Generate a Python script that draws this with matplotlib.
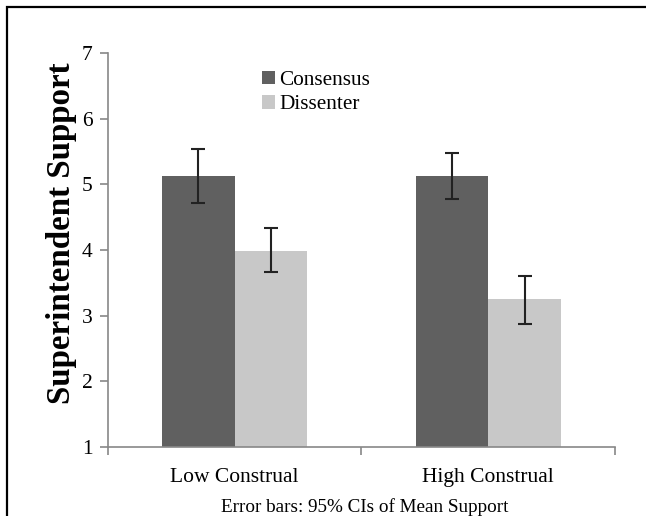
import matplotlib
matplotlib.use("Agg")
import matplotlib.pyplot as plt
import numpy as np
from matplotlib.patches import Rectangle

categories = ["Low Construal", "High Construal"]
series_names = ["Consensus", "Dissenter"]
consensus = [5.12, 5.13]
consensus_lo = [4.71, 4.78]
consensus_hi = [5.54, 5.48]
dissenter = [3.98, 3.25]
dissenter_lo = [3.66, 2.88]
dissenter_hi = [4.33, 3.61]
yticks = [1, 2, 3, 4, 5, 6, 7]
caption = "Error bars: 95% CIs of Mean Support"

W, H = 646, 516
fig = plt.figure(figsize=(W / 100, H / 100), dpi=100)
fig.patch.set_facecolor("white")
fig.patches.append(Rectangle((7 / W, -0.01), 1.02, 1 - 7 / H + 0.01, transform=fig.transFigure,
                             fill=False, edgecolor="black", linewidth=1.6))

ax = fig.add_axes([108 / W, 1 - 447 / H, (615 - 108) / W, (447 - 53) / H])
serif = "Liberation Serif"
x = np.arange(len(categories))
bw = 0.286
cols = ["#606060", "#c8c8c8"]
for i, (vals, lo, hi) in enumerate([(consensus, consensus_lo, consensus_hi),
                                     (dissenter, dissenter_lo, dissenter_hi)]):
    pos = x + (i - 0.5) * bw
    vals = np.array(vals)
    yerr = [vals - np.array(lo), np.array(hi) - vals]
    ax.bar(pos, vals - 1, bottom=1, width=bw, color=cols[i], label=series_names[i], zorder=2)
    ax.errorbar(pos, vals, yerr=yerr, fmt="none", ecolor="#222222", elinewidth=1.5,
                capsize=5, capthick=1.5, zorder=3)

ax.set_xlim(-0.5, 1.5)
ax.set_ylim(1, 7)
ax.set_yticks(yticks)
ax.set_yticklabels([str(t) for t in yticks], fontfamily=serif, fontsize=15.5)
ax.set_xticks([-0.5, 0.5, 1.5])
ax.set_xticklabels([])
ax.set_xticks(x, minor=True)
ax.set_xticklabels(categories, minor=True, fontfamily=serif, fontsize=15.5)
ax.tick_params(axis="x", which="minor", length=0, pad=15)
ax.tick_params(axis="x", which="major", length=6, color="#888888", width=1.2)
ax.tick_params(axis="y", length=6, color="#888888", width=1.2, pad=5)
for s in ["top", "right"]:
    ax.spines[s].set_visible(False)
for s in ["left", "bottom"]:
    ax.spines[s].set_color("#888888")
    ax.spines[s].set_linewidth(1.2)

ax.set_ylabel("Superintendent Support", fontfamily=serif, fontweight="bold", fontsize=23.8)
ax.yaxis.set_label_coords((77 - 108) / 507, (447 - 233) / 394)

leg = ax.legend(loc="upper left", bbox_to_anchor=(146 / 507, 1 - 9 / 394), frameon=False,
                prop={"family": serif, "size": 15.3}, handlelength=0.6, handleheight=0.6,
                handletextpad=0.2, labelspacing=0.25, borderaxespad=0)

fig.text(365 / W, 1 - 507 / H, caption, ha="center", va="center", fontfamily=serif, fontsize=13.8)

fig.savefig("out.png", dpi=100, facecolor="white")
